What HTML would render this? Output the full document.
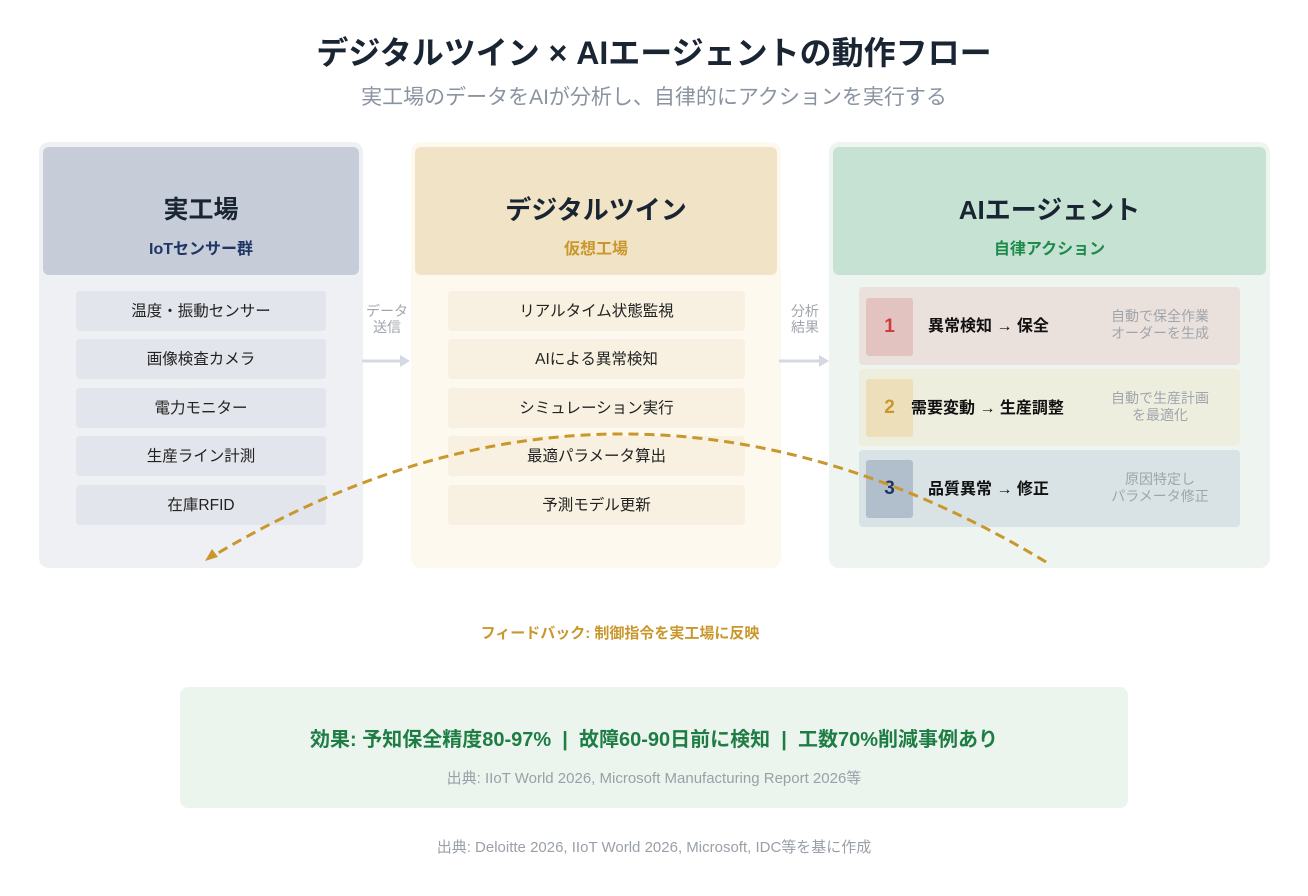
<!DOCTYPE html>
<html><head><meta charset="utf-8"><style>
*{margin:0;padding:0;box-sizing:border-box}
body{width:1308px;height:896px;background:#fff;position:relative;font-family:"Liberation Sans","Noto Sans CJK JP",sans-serif;overflow:hidden}
.a{position:absolute}
.c{text-align:center}
.it{position:absolute;border-radius:4px;text-align:center;font-size:15.5px;color:#222;line-height:42px;height:40px}
.l .it{background:#e2e5eb}
.m .it{background:#f8f1e1}
</style></head><body>
<div class="a c" style="left:0;width:1308px;top:28px;font-size:32px;font-weight:bold;color:#1a2533">デジタルツイン × AIエージェントの動作フロー</div>
<div class="a c" style="left:0;width:1308px;top:81px;font-size:21px;color:#8a93a0">実工場のデータをAIが分析し、自律的にアクションを実行する</div>

<!-- left -->
<div class="a l" style="left:39px;top:142px;width:324px;height:426px;background:#eef0f4;border-radius:10px">
<div class="a c" style="left:4px;top:5px;width:316px;height:128px;background:#c6cdd9;border-radius:6px">
<div style="margin-top:43px;font-size:25px;font-weight:bold;color:#1a2533">実工場</div>
<div style="margin-top:9px;font-size:16px;font-weight:bold;color:#1f3566">IoTセンサー群</div></div>
<div class="it" style="left:37px;top:149px;width:250px">温度・振動センサー</div>
<div class="it" style="left:37px;top:197px;width:250px">画像検査カメラ</div>
<div class="it" style="left:37px;top:246px;width:250px">電力モニター</div>
<div class="it" style="left:37px;top:294px;width:250px">生産ライン計測</div>
<div class="it" style="left:37px;top:343px;width:250px">在庫RFID</div>
</div>

<!-- middle -->
<div class="a m" style="left:411px;top:142px;width:370px;height:426px;background:#fdf9ef;border-radius:10px">
<div class="a c" style="left:4px;top:5px;width:362px;height:128px;background:#f1e3c5;border-radius:6px">
<div style="margin-top:43px;font-size:26px;font-weight:bold;color:#1a2533">デジタルツイン</div>
<div style="margin-top:8px;font-size:16px;font-weight:bold;color:#c9972c">仮想工場</div></div>
<div class="it" style="left:37px;top:149px;width:297px">リアルタイム状態監視</div>
<div class="it" style="left:37px;top:197px;width:297px">AIによる異常検知</div>
<div class="it" style="left:37px;top:246px;width:297px">シミュレーション実行</div>
<div class="it" style="left:37px;top:294px;width:297px">最適パラメータ算出</div>
<div class="it" style="left:37px;top:343px;width:297px">予測モデル更新</div>
</div>

<!-- right -->
<div class="a" style="left:829px;top:142px;width:441px;height:426px;background:#eef5f0;border-radius:10px">
<div class="a c" style="left:4px;top:5px;width:433px;height:128px;background:#c6e2d3;border-radius:6px">
<div style="margin-top:43px;font-size:26px;font-weight:bold;color:#1a2533">AIエージェント</div>
<div style="margin-top:8px;font-size:16px;font-weight:bold;color:#1e8a4c">自律アクション</div></div>
</div>
<div class="a" style="left:859px;top:287px;width:381px;height:78px;background:#ebe1dc;border-radius:4px"></div>
<div class="a c" style="left:866px;top:298px;width:47px;height:58px;background:#e3c3c0;border-radius:3px;line-height:58px;font-size:19px;font-weight:bold;color:#d03a3a">1</div>
<div class="a" style="left:928px;top:312px;font-size:16px;font-weight:bold;color:#111">異常検知 → 保全</div>
<div class="a c" style="left:1090px;top:308px;width:140px;font-size:14px;line-height:17px;color:#a0a5ad">自動で保全作業<br>オーダーを生成</div>

<div class="a" style="left:859px;top:369px;width:381px;height:77px;background:#eeeedf;border-radius:4px"></div>
<div class="a c" style="left:866px;top:379px;width:47px;height:58px;background:#ecdfb9;border-radius:3px;line-height:58px;font-size:19px;font-weight:bold;color:#c9972c">2</div>
<div class="a" style="left:911px;top:394px;font-size:16px;font-weight:bold;color:#111">需要変動 → 生産調整</div>
<div class="a c" style="left:1090px;top:390px;width:140px;font-size:14px;line-height:17px;color:#a0a5ad">自動で生産計画<br>を最適化</div>

<div class="a" style="left:859px;top:450px;width:381px;height:77px;background:#d9e3e6;border-radius:4px"></div>
<div class="a c" style="left:866px;top:460px;width:47px;height:58px;background:#b1bfcc;border-radius:3px;line-height:58px;font-size:19px;font-weight:bold;color:#1f3566">3</div>
<div class="a" style="left:928px;top:475px;font-size:16px;font-weight:bold;color:#111">品質異常 → 修正</div>
<div class="a c" style="left:1090px;top:471px;width:140px;font-size:14px;line-height:17px;color:#a0a5ad">原因特定し<br>パラメータ修正</div>

<div class="a c" style="left:355px;top:303px;width:64px;font-size:14px;line-height:16px;color:#a0a5ad">データ<br>送信</div>
<div class="a c" style="left:773px;top:303px;width:64px;font-size:14px;line-height:16px;color:#a0a5ad">分析<br>結果</div>

<svg class="a" style="left:0;top:0" width="1308" height="896">
<line x1="362" y1="361" x2="402" y2="361" stroke="#d3d8e3" stroke-width="3"/>
<polygon points="400,355 410,361 400,367" fill="#d3d8e3"/>
<line x1="779" y1="361" x2="821" y2="361" stroke="#d3d8e3" stroke-width="3"/>
<polygon points="819,355 829,361 819,367" fill="#d3d8e3"/>
<path d="M1046,562 Q626,309 213,556" fill="none" stroke="#c9972c" stroke-width="3" stroke-dasharray="10,6"/>
<polygon points="205,561 212,549 218,557" fill="#c9972c"/>
</svg>

<div class="a c" style="left:0;width:1240px;top:622px;font-size:15px;font-weight:bold;color:#c9972c">フィードバック: 制御指令を実工場に反映</div>

<div class="a c" style="left:180px;top:687px;width:948px;height:121px;background:#ecf4ee;border-radius:8px">
<div style="margin-top:36px;font-size:20px;font-weight:bold;color:#1e7d45">効果: 予知保全精度80-97% &nbsp;| &nbsp;故障60-90日前に検知 &nbsp;| &nbsp;工数70%削減事例あり</div>
<div style="margin-top:15px;font-size:15px;color:#9aa0a8">出典: IIoT World 2026, Microsoft Manufacturing Report 2026等</div>
</div>
<div class="a c" style="left:0;width:1308px;top:836px;font-size:15px;color:#9aa0a8">出典: Deloitte 2026, IIoT World 2026, Microsoft, IDC等を基に作成</div>
</body></html>
